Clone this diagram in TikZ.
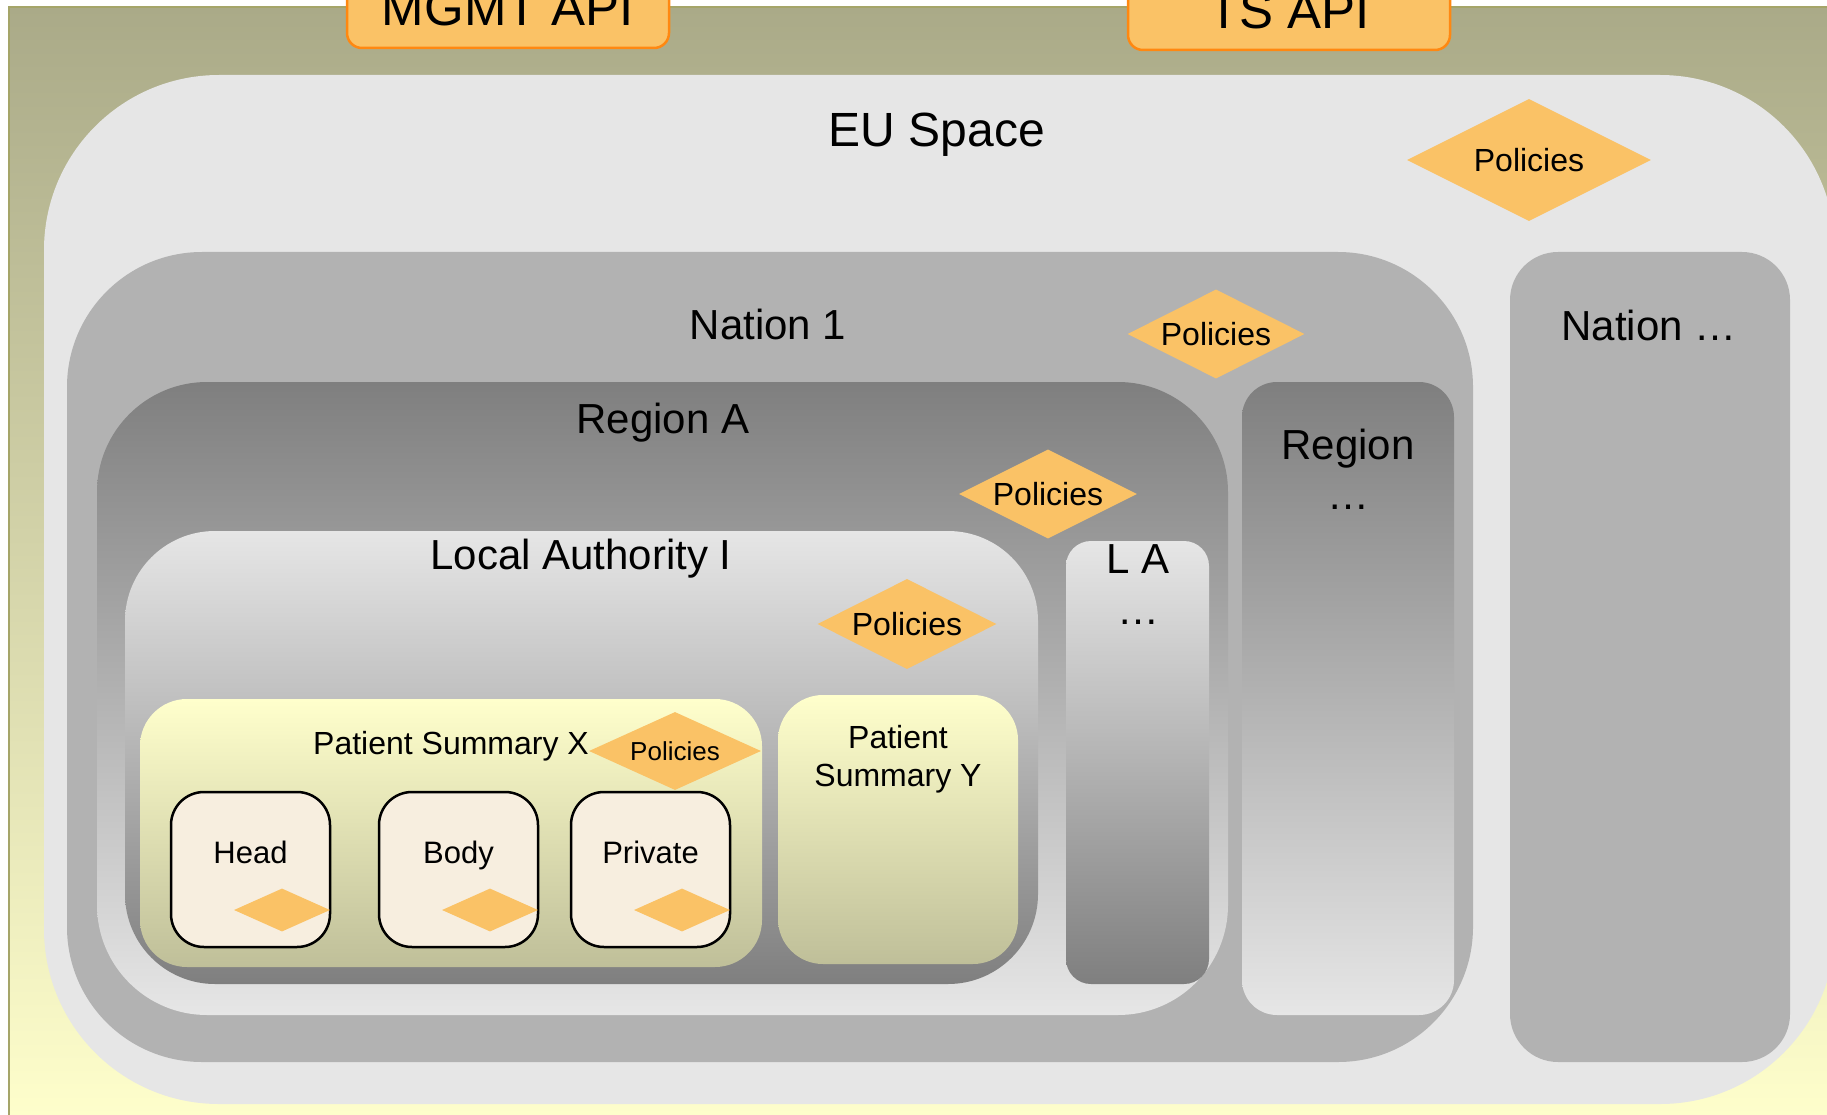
\documentclass[tikz,border=0pt]{standalone}
\usepackage{fontspec}
\setmainfont{Liberation Sans}
\usetikzlibrary{shapes.geometric}

\definecolor{bgtop}{RGB}{170,170,136}
\definecolor{bgbot}{RGB}{255,255,204}
\definecolor{bgline}{RGB}{165,165,105}
\definecolor{lightgrey}{RGB}{230,230,230}
\definecolor{midgrey}{RGB}{178,178,178}
\definecolor{darkgrey}{RGB}{127,127,127}
\definecolor{pstop}{RGB}{255,255,204}
\definecolor{psbot}{RGB}{191,191,153}
\definecolor{polfill}{RGB}{250,194,102}
\definecolor{apiline}{RGB}{255,136,17}
\definecolor{partfill}{RGB}{247,238,223}

\begin{document}
\begin{tikzpicture}[x=1pt,y=-1pt,
  lab/.style={inner sep=0pt, anchor=base, text=black, font=\fontsize{42pt}{50pt}\selectfont},
  smalllab/.style={lab, font=\fontsize{32pt}{38pt}\selectfont},
  policy/.style={diamond, aspect=2, fill=polfill, inner sep=0pt, text=black,
                 font=\fontsize{32pt}{38pt}\selectfont},
  apibox/.style={fill=polfill, draw=apiline, line width=2.5pt, rounded corners=15pt},
  partbox/.style={fill=partfill, draw=black, line width=2.5pt, rounded corners=33pt},
  dimbox/.style={top color=darkgrey, bottom color=lightgrey},
  litbox/.style={top color=lightgrey, bottom color=darkgrey},
  psbox/.style={top color=pstop, bottom color=psbot, rounded corners=47pt}
]
\useasboundingbox (0,0) rectangle (1827,1115);
\clip (0,0) rectangle (1827,1115);

% backdrop
\shade[top color=bgtop, bottom color=bgbot] (9,7) rectangle (1850,1130);
\draw[bgline, line width=1.5pt] (9,1130) -- (9,7) -- (1850,7);

% interfaces along the top edge
\draw[apibox] (347,-40) rectangle (669,48);
\node[lab, font=\fontsize{51pt}{60pt}\selectfont] (mgmt) at (508,26) {MGMT API};
\draw[apibox] (1128,-40) rectangle (1450,50);
\node[lab, font=\fontsize{51pt}{60pt}\selectfont] (ts) at (1289,29) {TS API};

% EU space
\fill[lightgrey, rounded corners=175pt] (44,75) rectangle (1835,1104);
\node[lab, font=\fontsize{48pt}{56pt}\selectfont] (eu) at (937,147) {EU Space};
\node[policy, minimum width=244pt, minimum height=122pt] (eupol) at (1529,160) {Policies};

% Nation 1
\fill[midgrey, rounded corners=135pt] (67,252) rectangle (1473,1062);
\node[lab] (nat1) at (768,339) {Nation 1};
\node[policy, minimum width=177pt, minimum height=89pt] (nat1pol) at (1216,334) {Policies};

% Region A
\shade[dimbox, rounded corners=110pt] (97,382) rectangle (1228,1015);
\node[lab] (rega) at (663,433) {Region A};
\node[policy, minimum width=178pt, minimum height=89pt] (regapol) at (1048,494) {Policies};

% Local Authority I
\shade[litbox, rounded corners=90pt] (125,531) rectangle (1038,984);
\node[lab] (la1) at (581,569) {Local Authority I};
\node[policy, minimum width=179pt, minimum height=90pt] (la1pol) at (907,624) {Policies};

% Patient Summary X with its parts
\shade[psbox] (140,699) rectangle (762,967);
\node[smalllab] (psx) at (451,754) {Patient Summary X};
\node[policy, aspect=2.2, minimum width=172pt, minimum height=78pt,
      font=\fontsize{26pt}{31pt}\selectfont] (psxpol) at (675,751) {Policies};

\draw[partbox] (171,792) rectangle (330,947);
\node[smalllab, font=\fontsize{31pt}{37pt}\selectfont] (head) at (250.5,863) {Head};
\node[policy, minimum width=96pt, minimum height=43pt] (headpol) at (282,910) {};

\draw[partbox] (379,792) rectangle (538,947);
\node[smalllab, font=\fontsize{31pt}{37pt}\selectfont] (body) at (458.5,863) {Body};
\node[policy, minimum width=96pt, minimum height=43pt] (bodypol) at (490,910) {};

\draw[partbox] (571,792) rectangle (730,947);
\node[smalllab, font=\fontsize{31pt}{37pt}\selectfont] (priv) at (650.5,863) {Private};
\node[policy, minimum width=96pt, minimum height=43pt] (privpol) at (682,910) {};

% Patient Summary Y
\shade[psbox, rounded corners=45pt] (778,695) rectangle (1018,964);
\node[smalllab] (psy1) at (898,748) {Patient};
\node[smalllab] (psy2) at (898,786) {Summary Y};

% further local authorities
\shade[litbox, rounded corners=25pt] (1066,541) rectangle (1209,984);
\node[lab] (la2) at (1138,573) {L A};
\node[lab] (la2dots) at (1138,624) {…};

% further regions
\shade[dimbox, rounded corners=35pt] (1242,382) rectangle (1454,1015);
\node[lab] (reg2) at (1348,459) {Region};
\node[lab] (reg2dots) at (1348,509) {…};

% further nations
\fill[midgrey, rounded corners=48pt] (1510,252) rectangle (1790,1062);
\node[lab] (nat2) at (1649,340) {Nation …};
\end{tikzpicture}
\end{document}
